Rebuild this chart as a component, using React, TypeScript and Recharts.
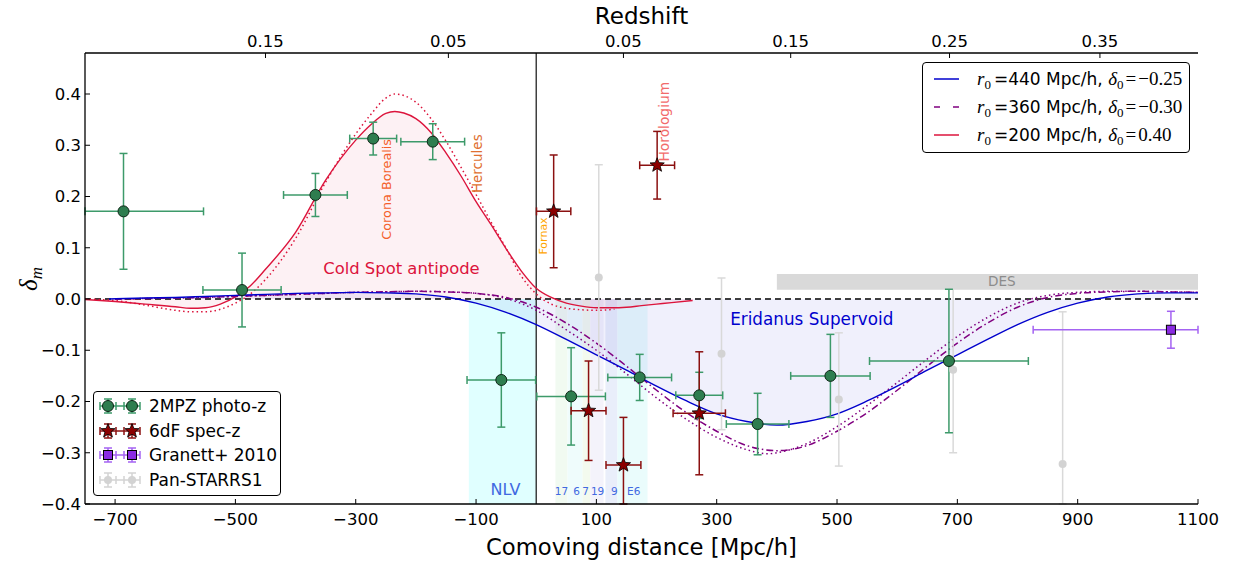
import React from "react";
import {
  ComposedChart,
  XAxis,
  YAxis,
  Line,
  Area,
  Scatter,
  ErrorBar,
  ReferenceArea,
  ReferenceLine,
  ReferenceDot,
} from "recharts";

const SANS = "'DejaVu Sans', sans-serif";
const SERIF = "'Liberation Serif', 'DejaVu Serif', serif";

// axis ranges and ticks
const xRange = [-750, 1100];
const yRange = [-0.4, 0.48];
const distTicks = [-700, -500, -300, -100, 100, 300, 500, 700, 900, 1100];
const deltaTicks = [-0.4, -0.3, -0.2, -0.1, 0, 0.1, 0.2, 0.3, 0.4];
const zTickPos = [-450, -146, 145, 423, 687, 937];
const zTickLabels = ["0.15", "0.05", "0.05", "0.15", "0.25", "0.35"];

// 2MPZ photo-z
const mpzX = [-686, -489, -367, -271, -172, -58, 58, 172, 271, 368, 489, 686];
const mpzY = [0.171, 0.0175, 0.203, 0.313, 0.307, -0.158, -0.19, -0.153, -0.188, -0.244, -0.15, -0.121];
const mpzErrX = [133, 65, 53, 39, 53, 57, 57, 53, 39, 52, 66, 132];
const mpzErrY = [0.113, 0.072, 0.042, 0.032, 0.035, 0.092, 0.095, 0.045, 0.045, 0.06, 0.081, 0.14];

// 6dF spec-z
const sixX = [29, 201, 87, 145, 271];
const sixY = [0.171, 0.261, -0.218, -0.324, -0.223];
const sixErrX = [28.5, 29, 29, 29, 43.5];
const sixErrY = [0.11, 0.066, 0.097, 0.093, 0.12];

// Granett+ 2010
const granX = [1055];
const granY = [-0.06];
const granErrX = [229];
const granErrY = [0.036];

// Pan-STARRS1
const psX = [104, 308, 503, 693, 875];
const psY = [0.042, -0.107, -0.196, -0.138, -0.322];
const psErrY = [0.22, 0.148, 0.13, 0.162, 0.297];

// r0=440, d0=-0.25 (blue)
const blueX = [-710, -650, -600, -550, -500, -450, -400, -350, -300, -250, -200, -150, -100, -50, 0, 50, 100, 150, 200, 250, 300, 350, 400, 450, 500, 550, 600, 650, 700, 750, 800, 850, 900, 950, 1000, 1050, 1100];
const blueY = [0.0, 0.002, 0.003, 0.005, 0.007, 0.009, 0.011, 0.012, 0.013, 0.012, 0.01, 0.004, -0.008, -0.026, -0.05, -0.079, -0.109, -0.139, -0.17, -0.199, -0.224, -0.239, -0.246, -0.239, -0.224, -0.199, -0.17, -0.139, -0.109, -0.079, -0.05, -0.026, -0.008, 0.004, 0.01, 0.012, 0.012];

// r0=360, d0=-0.30 (purple, dash-dot and dotted)
const purpX = [-700, -650, -600, -550, -500, -450, -400, -350, -300, -250, -200, -150, -100, -50, 0, 50, 100, 150, 200, 250, 300, 350, 400, 450, 500, 550, 600, 650, 700, 750, 800, 850, 900, 950, 1000, 1050, 1100];
const purpY = [0.0, 0.001, 0.002, 0.003, 0.005, 0.007, 0.009, 0.011, 0.013, 0.014, 0.015, 0.014, 0.011, 0.003, -0.016, -0.047, -0.086, -0.131, -0.178, -0.222, -0.258, -0.286, -0.296, -0.286, -0.258, -0.222, -0.178, -0.131, -0.086, -0.047, -0.016, 0.003, 0.011, 0.014, 0.015, 0.014, 0.013];
const purpDotX = [-700, -600, -500, -400, -300, -250, -200, -150, -100, -50, 0, 50, 100, 150, 200, 250, 300, 350, 385, 400, 450, 500, 550, 600, 650, 700, 750, 800, 850, 900, 950, 1000, 1050, 1100];
const purpDotY = [0.0, 0.002, 0.005, 0.009, 0.013, 0.014, 0.015, 0.014, 0.011, 0.001, -0.022, -0.06, -0.1, -0.146, -0.193, -0.235, -0.27, -0.294, -0.302, -0.3, -0.282, -0.249, -0.208, -0.163, -0.117, -0.073, -0.036, -0.008, 0.007, 0.013, 0.015, 0.015, 0.014, 0.013];

// r0=200, d0=0.40 (red, solid and dotted)
const redX = [-750, -700, -650, -600, -575, -550, -525, -500, -475, -450, -400, -350, -300, -275, -250, -235, -220, -200, -175, -150, -125, -100, -75, -50, -25, 0, 25, 50, 75, 100, 125, 150, 175, 200, 225, 260];
const redY = [-0.001, -0.005, -0.01, -0.015, -0.018, -0.017, -0.01, 0.004, 0.026, 0.058, 0.13, 0.232, 0.31, 0.34, 0.362, 0.366, 0.363, 0.352, 0.325, 0.285, 0.24, 0.19, 0.145, 0.098, 0.055, 0.021, 0.003, -0.008, -0.014, -0.017, -0.017, -0.016, -0.013, -0.01, -0.007, -0.003];
const redDotX = [-750, -700, -650, -600, -575, -550, -525, -500, -475, -450, -400, -350, -300, -275, -250, -235, -220, -200, -175, -150, -125, -100, -75, -50, -25, 0, 25, 50, 75, 100, 130];
const redDotY = [0.0, -0.003, -0.012, -0.022, -0.025, -0.025, -0.02, -0.008, 0.01, 0.038, 0.118, 0.228, 0.322, 0.36, 0.392, 0.4, 0.397, 0.384, 0.352, 0.308, 0.257, 0.204, 0.15, 0.099, 0.045, 0.01, -0.01, -0.018, -0.021, -0.022, -0.02];

// local structures along the line of sight
const bandNames = ["17", "6", "7", "19", "9", "E6"];
const bandFrom = [32, 52, 77, 90, 115, 135];
const bandTo = [52, 77, 90, 112, 135, 185];
const bandLabelX = [42, 67, 82, 102, 130, 162];
const bandFills = ["#f1faf1", "#effcfc", "#f3faee", "#f4f3fb", "#e9eefa", "#eafcfc"];

const pts = (xs: number[], ys: number[]) => xs.map((x, i) => ({ x, y: ys[i] }));

// error bars are cut at the frame, like matplotlib clipping
const cut = (v: number, e: number, range: number[]) => [Math.min(e, v - range[0]), Math.min(e, range[1] - v)];
const withErr = (xs: number[], ys: number[], exs: number[] | null, eys: number[]) =>
  xs.map((x, i) => ({
    x,
    y: ys[i],
    ex: cut(x, exs ? exs[i] : 0, xRange),
    ey: cut(ys[i], eys[i], yRange),
  }));

// keeps the redshift axis and the right-hand axis on the same span
const frameSpan = [
  { x: xRange[0], y: yRange[0] },
  { x: xRange[1], y: yRange[1] },
];

const minus = (s: string) => s.replace("-", "\u2212");

const LeftTick = ({ x, y, payload }: any) => (
  <g>
    <line x1={x} x2={x + 5} y1={y} y2={y} stroke="#000" />
    <text x={x - 4} y={y} dy="0.36em" textAnchor="end" fontSize={16.5} fontFamily={SANS} fill="#000">
      {minus(Number(payload.value).toFixed(1))}
    </text>
  </g>
);

const RightTick = ({ x, y }: any) => <line x1={x} x2={x - 5} y1={y} y2={y} stroke="#000" />;

const BottomTick = ({ x, y, payload }: any) => (
  <g>
    <line x1={x} x2={x} y1={y} y2={y - 5} stroke="#000" />
    <text x={x} y={y + 21} textAnchor="middle" fontSize={16.5} fontFamily={SANS} fill="#000">
      {minus(String(payload.value))}
    </text>
  </g>
);

const TopTick = ({ x, y, payload }: any) => (
  <g>
    <line x1={x} x2={x} y1={y} y2={y + 5} stroke="#000" />
    <text x={x} y={y - 6} textAnchor="middle" fontSize={16.5} fontFamily={SANS} fill="#000">
      {zTickLabels[zTickPos.indexOf(payload.value)]}
    </text>
  </g>
);

const starPath = (cx: number, cy: number, R: number, r: number) => {
  let d = "";
  for (let i = 0; i < 10; i++) {
    const a = -Math.PI / 2 + (i * Math.PI) / 5;
    const rad = i % 2 === 0 ? R : r;
    d += (i ? "L" : "M") + (cx + rad * Math.cos(a)).toFixed(2) + " " + (cy + rad * Math.sin(a)).toFixed(2);
  }
  return d + "Z";
};

const GreenDot = ({ cx, cy }: any) => <circle cx={cx} cy={cy} r={5.5} fill="#2e7d4f" stroke="#0d2616" strokeWidth={1} />;
const RedStar = ({ cx, cy }: any) => <path d={starPath(cx, cy, 7.5, 3.2)} fill="#8b0000" stroke="#000" strokeWidth={0.8} />;
const PurpleSquare = ({ cx, cy }: any) => (
  <rect x={cx - 4.5} y={cy - 4.5} width={9} height={9} fill="#8a2be2" stroke="#000" strokeWidth={1} />
);
const GreyDot = ({ cx, cy }: any) => <circle cx={cx} cy={cy} r={4} fill="#d3d3d3" />;

const textAt = (label: string, color: string, size: number, rotate = false) =>
  ({ cx, cy }: any) => (
    <text
      x={cx}
      y={cy}
      fill={color}
      fontSize={size}
      fontFamily={SANS}
      textAnchor="middle"
      transform={rotate ? `rotate(-90, ${cx}, ${cy})` : undefined}
    >
      {label}
    </text>
  );

const YTitle = () => (
  <text x={37} y={279} transform="rotate(-90, 37, 279)" textAnchor="middle" fontFamily={SERIF} fontSize={25} fontStyle="italic">
    δ<tspan fontSize={17} dy={5}>m</tspan>
  </text>
);

const BottomTitle = ({ viewBox }: any) => (
  <text x={viewBox.x + viewBox.width / 2} y={viewBox.y + 51} textAnchor="middle" fontSize={22.7} fontFamily={SANS}>
    Comoving distance [Mpc/h]
  </text>
);

const TopTitle = ({ viewBox }: any) => (
  <text x={viewBox.x + viewBox.width / 2} y={24} textAnchor="middle" fontSize={23} fontFamily={SANS}>
    Redshift
  </text>
);

const modelEntries = [
  { r0: "440", d0: "\u22120.25", color: "#0000cc", dash: undefined as string | undefined },
  { r0: "360", d0: "\u22120.30", color: "#800080", dash: "6 13" },
  { r0: "200", d0: "0.40", color: "#dc143c", dash: undefined },
];

const dataEntries = [
  { name: "2MPZ photo-z", bar: "#3d9a6a", kind: "dot" },
  { name: "6dF spec-z", bar: "#8b1010", kind: "star" },
  { name: "Granett+ 2010", bar: "#a463f2", kind: "square" },
  { name: "Pan-STARRS1", bar: "#d3d3d3", kind: "grey" },
];

const LegendIcon = ({ bar, kind }: { bar: string; kind: string }) => {
  const centers = [12, 36];
  const mark = (cx: number) => {
    if (kind === "dot") return <GreenDot cx={cx} cy={10} />;
    if (kind === "star") return <RedStar cx={cx} cy={10} />;
    if (kind === "square") return <PurpleSquare cx={cx} cy={10} />;
    return <GreyDot cx={cx} cy={10} />;
  };
  return (
    <svg width={50} height={20} style={{ position: "absolute", left: 0, top: 0 }}>
      <line x1={4} x2={44} y1={10} y2={10} stroke={bar} strokeWidth={1.5} />
      {centers.map((c) => (
        <g key={c}>
          <line x1={c - 8} x2={c - 8} y1={6} y2={14} stroke={bar} strokeWidth={1.5} />
          <line x1={c + 8} x2={c + 8} y1={6} y2={14} stroke={bar} strokeWidth={1.5} />
          <line x1={c} x2={c} y1={3} y2={17} stroke={bar} strokeWidth={1.5} />
          <line x1={c - 4} x2={c + 4} y1={3} y2={3} stroke={bar} strokeWidth={1.5} />
          <line x1={c - 4} x2={c + 4} y1={17} y2={17} stroke={bar} strokeWidth={1.5} />
          {mark(c)}
        </g>
      ))}
    </svg>
  );
};

const DataLegend = () => (
  <div
    style={{
      position: "absolute",
      left: 93,
      top: 391,
      width: 188,
      height: 105,
      border: "1px solid #000",
      borderRadius: 4,
      background: "#fff",
      boxSizing: "border-box",
    }}
  >
    {dataEntries.map((e, i) => (
      <div key={e.name} style={{ position: "absolute", left: 2, top: 4 + i * 24.7, height: 20, width: 184 }}>
        <LegendIcon bar={e.bar} kind={e.kind} />
        <span style={{ position: "absolute", left: 53, top: 0, fontSize: 17, lineHeight: "20px", fontFamily: SANS, whiteSpace: "nowrap" }}>
          {e.name}
        </span>
      </div>
    ))}
  </div>
);

const mathSub = { fontFamily: SERIF, fontSize: 13, position: "relative" as const, top: 4 };
const mathVar = { fontFamily: SERIF, fontStyle: "italic" as const, fontSize: 19 };
const mathNum = { fontFamily: SERIF, fontSize: 19 };

const ModelLegend = () => (
  <div
    style={{
      position: "absolute",
      left: 922,
      top: 62,
      width: 268,
      height: 91,
      border: "1px solid #000",
      borderRadius: 4,
      background: "#fff",
      boxSizing: "border-box",
    }}
  >
    {modelEntries.map((e, i) => (
      <div key={e.r0} style={{ position: "absolute", left: 0, top: 5 + i * 28, height: 22, width: 266 }}>
        <svg width={40} height={22} style={{ position: "absolute", left: 10, top: 0 }}>
          <line x1={1} x2={26} y1={11} y2={11} stroke={e.color} strokeWidth={1.5} strokeDasharray={e.dash} />
        </svg>
        <span style={{ position: "absolute", left: 54, top: 0, lineHeight: "22px", fontSize: 17, fontFamily: SANS, whiteSpace: "nowrap" }}>
          <span style={mathVar}>r</span>
          <span style={{ ...mathSub, marginRight: 3 }}>0</span>
          {`=${e.r0} Mpc/h, `}
          <span style={mathVar}>δ</span>
          <span style={mathSub}>0</span>
          <span style={{ ...mathNum, margin: "0 2px" }}>=</span>
          <span style={mathNum}>{e.d0}</span>
        </span>
      </div>
    ))}
  </div>
);

export default function App() {
  return (
    <div style={{ position: "absolute", left: 0, top: 0, width: 1234, height: 561, background: "#fff" }}>
      <ComposedChart width={1234} height={561} margin={{ top: 0, right: 36, bottom: 0, left: 25 }}>
        <XAxis
          dataKey="x"
          type="number"
          domain={xRange}
          allowDataOverflow
          ticks={distTicks}
          interval={0}
          height={57}
          tickSize={0}
          tickMargin={0}
          tickLine={false}
          tick={BottomTick}
          axisLine={{ stroke: "#000", strokeWidth: 1.3 }}
          label={BottomTitle}
        />
        <XAxis
          xAxisId="top"
          dataKey="x"
          orientation="top"
          type="number"
          domain={xRange}
          allowDataOverflow
          ticks={zTickPos}
          interval={0}
          height={53}
          tickSize={0}
          tickMargin={0}
          tickLine={false}
          tick={TopTick}
          axisLine={{ stroke: "#000", strokeWidth: 1.3 }}
          label={TopTitle}
        />
        <YAxis
          dataKey="y"
          type="number"
          domain={yRange}
          allowDataOverflow
          ticks={deltaTicks}
          interval={0}
          width={60}
          tickSize={0}
          tickMargin={0}
          tickLine={false}
          tick={LeftTick}
          axisLine={{ stroke: "#000", strokeWidth: 1.3 }}
          label={YTitle}
        />
        <YAxis
          yAxisId="right"
          dataKey="y"
          orientation="right"
          type="number"
          domain={yRange}
          allowDataOverflow
          ticks={deltaTicks}
          interval={0}
          width={0}
          tickSize={0}
          tickMargin={0}
          tickLine={false}
          tick={RightTick}
          axisLine={{ stroke: "#000", strokeWidth: 1.3 }}
        />

        <ReferenceArea x1={-112} x2={0} y1={-0.4} y2={0} fill="#e0ffff" fillOpacity={1} stroke="none" />
        {bandNames.map((n, i) => (
          <ReferenceArea key={n} x1={bandFrom[i]} x2={bandTo[i]} y1={-0.4} y2={0} fill={bandFills[i]} fillOpacity={1} stroke="none" />
        ))}
        <ReferenceArea x1={400} x2={1100} y1={0.018} y2={0.049} fill="#d9d9d9" fillOpacity={1} stroke="none" />

        <Line xAxisId="top" yAxisId="right" data={frameSpan} dataKey="y" stroke="none" dot={false} activeDot={false} isAnimationActive={false} />

        <Area data={pts(blueX, blueY)} dataKey="y" type="monotone" baseValue={0} fill="#0000cc" fillOpacity={0.06} stroke="none" isAnimationActive={false} />
        <Area data={pts(redX, redY)} dataKey="y" type="monotone" baseValue={0} fill="#dc143c" fillOpacity={0.06} stroke="none" isAnimationActive={false} />

        <ReferenceLine y={0} stroke="#000" strokeWidth={1.3} strokeDasharray="6 4" />
        <ReferenceLine x={0} stroke="#222" strokeWidth={1.3} />

        <Line data={pts(redDotX, redDotY)} dataKey="y" type="monotone" stroke="#dc143c" strokeWidth={1.5} strokeDasharray="1.5 3" dot={false} isAnimationActive={false} />
        <Line data={pts(redX, redY)} dataKey="y" type="monotone" stroke="#dc143c" strokeWidth={1.4} dot={false} isAnimationActive={false} />
        <Line data={pts(purpDotX, purpDotY)} dataKey="y" type="monotone" stroke="#800080" strokeWidth={1.5} strokeDasharray="1.5 3" dot={false} isAnimationActive={false} />
        <Line data={pts(purpX, purpY)} dataKey="y" type="monotone" stroke="#800080" strokeWidth={1.5} strokeDasharray="7 3 1.5 3" dot={false} isAnimationActive={false} />
        <Line data={pts(blueX, blueY)} dataKey="y" type="monotone" stroke="#0000cc" strokeWidth={1.4} dot={false} isAnimationActive={false} />

        <Scatter data={withErr(psX, psY, null, psErrY)} shape={GreyDot} isAnimationActive={false}>
          <ErrorBar dataKey="ey" direction="y" width={4} stroke="#d9d9d9" strokeWidth={1.5} />
        </Scatter>
        <Scatter data={withErr(mpzX, mpzY, mpzErrX, mpzErrY)} shape={GreenDot} isAnimationActive={false}>
          <ErrorBar dataKey="ex" direction="x" width={4} stroke="#3d9a6a" strokeWidth={1.5} />
          <ErrorBar dataKey="ey" direction="y" width={4} stroke="#3d9a6a" strokeWidth={1.5} />
        </Scatter>
        <Scatter data={withErr(sixX, sixY, sixErrX, sixErrY)} shape={RedStar} isAnimationActive={false}>
          <ErrorBar dataKey="ex" direction="x" width={4} stroke="#8b1010" strokeWidth={1.5} />
          <ErrorBar dataKey="ey" direction="y" width={4} stroke="#8b1010" strokeWidth={1.5} />
        </Scatter>
        <Scatter data={withErr(granX, granY, granErrX, granErrY)} shape={PurpleSquare} isAnimationActive={false}>
          <ErrorBar dataKey="ex" direction="x" width={4} stroke="#a463f2" strokeWidth={1.5} />
          <ErrorBar dataKey="ey" direction="y" width={4} stroke="#a463f2" strokeWidth={1.5} />
        </Scatter>

        <ReferenceDot x={-241} y={0.214} r={0} shape={textAt("Corona Borealis", "#f4602a", 12.8, true)} />
        <ReferenceDot x={-90} y={0.264} r={0} shape={textAt("Hercules", "#e07030", 13.5, true)} />
        <ReferenceDot x={18} y={0.123} r={0} shape={textAt("Fornax", "#ffa500", 11, true)} />
        <ReferenceDot x={220} y={0.346} r={0} shape={textAt("Horologium", "#f26b6b", 13.8, true)} />
        <ReferenceDot x={-224} y={0.049} r={0} shape={textAt("Cold Spot antipode", "#dc143c", 16.4)} />
        <ReferenceDot x={458} y={-0.05} r={0} shape={textAt("Eridanus Supervoid", "#0000cd", 16.8)} />
        <ReferenceDot x={774} y={0.026} r={0} shape={textAt("DES", "#8c8c8c", 13.6)} />
        <ReferenceDot x={-51} y={-0.382} r={0} shape={textAt("NLV", "#4169e1", 16)} />
        {bandNames.map((n, i) => (
          <ReferenceDot key={n} x={bandLabelX[i]} y={-0.383} r={0} shape={textAt(n, "#4169e1", 10.5)} />
        ))}
      </ComposedChart>
      <ModelLegend />
      <DataLegend />
    </div>
  );
}
